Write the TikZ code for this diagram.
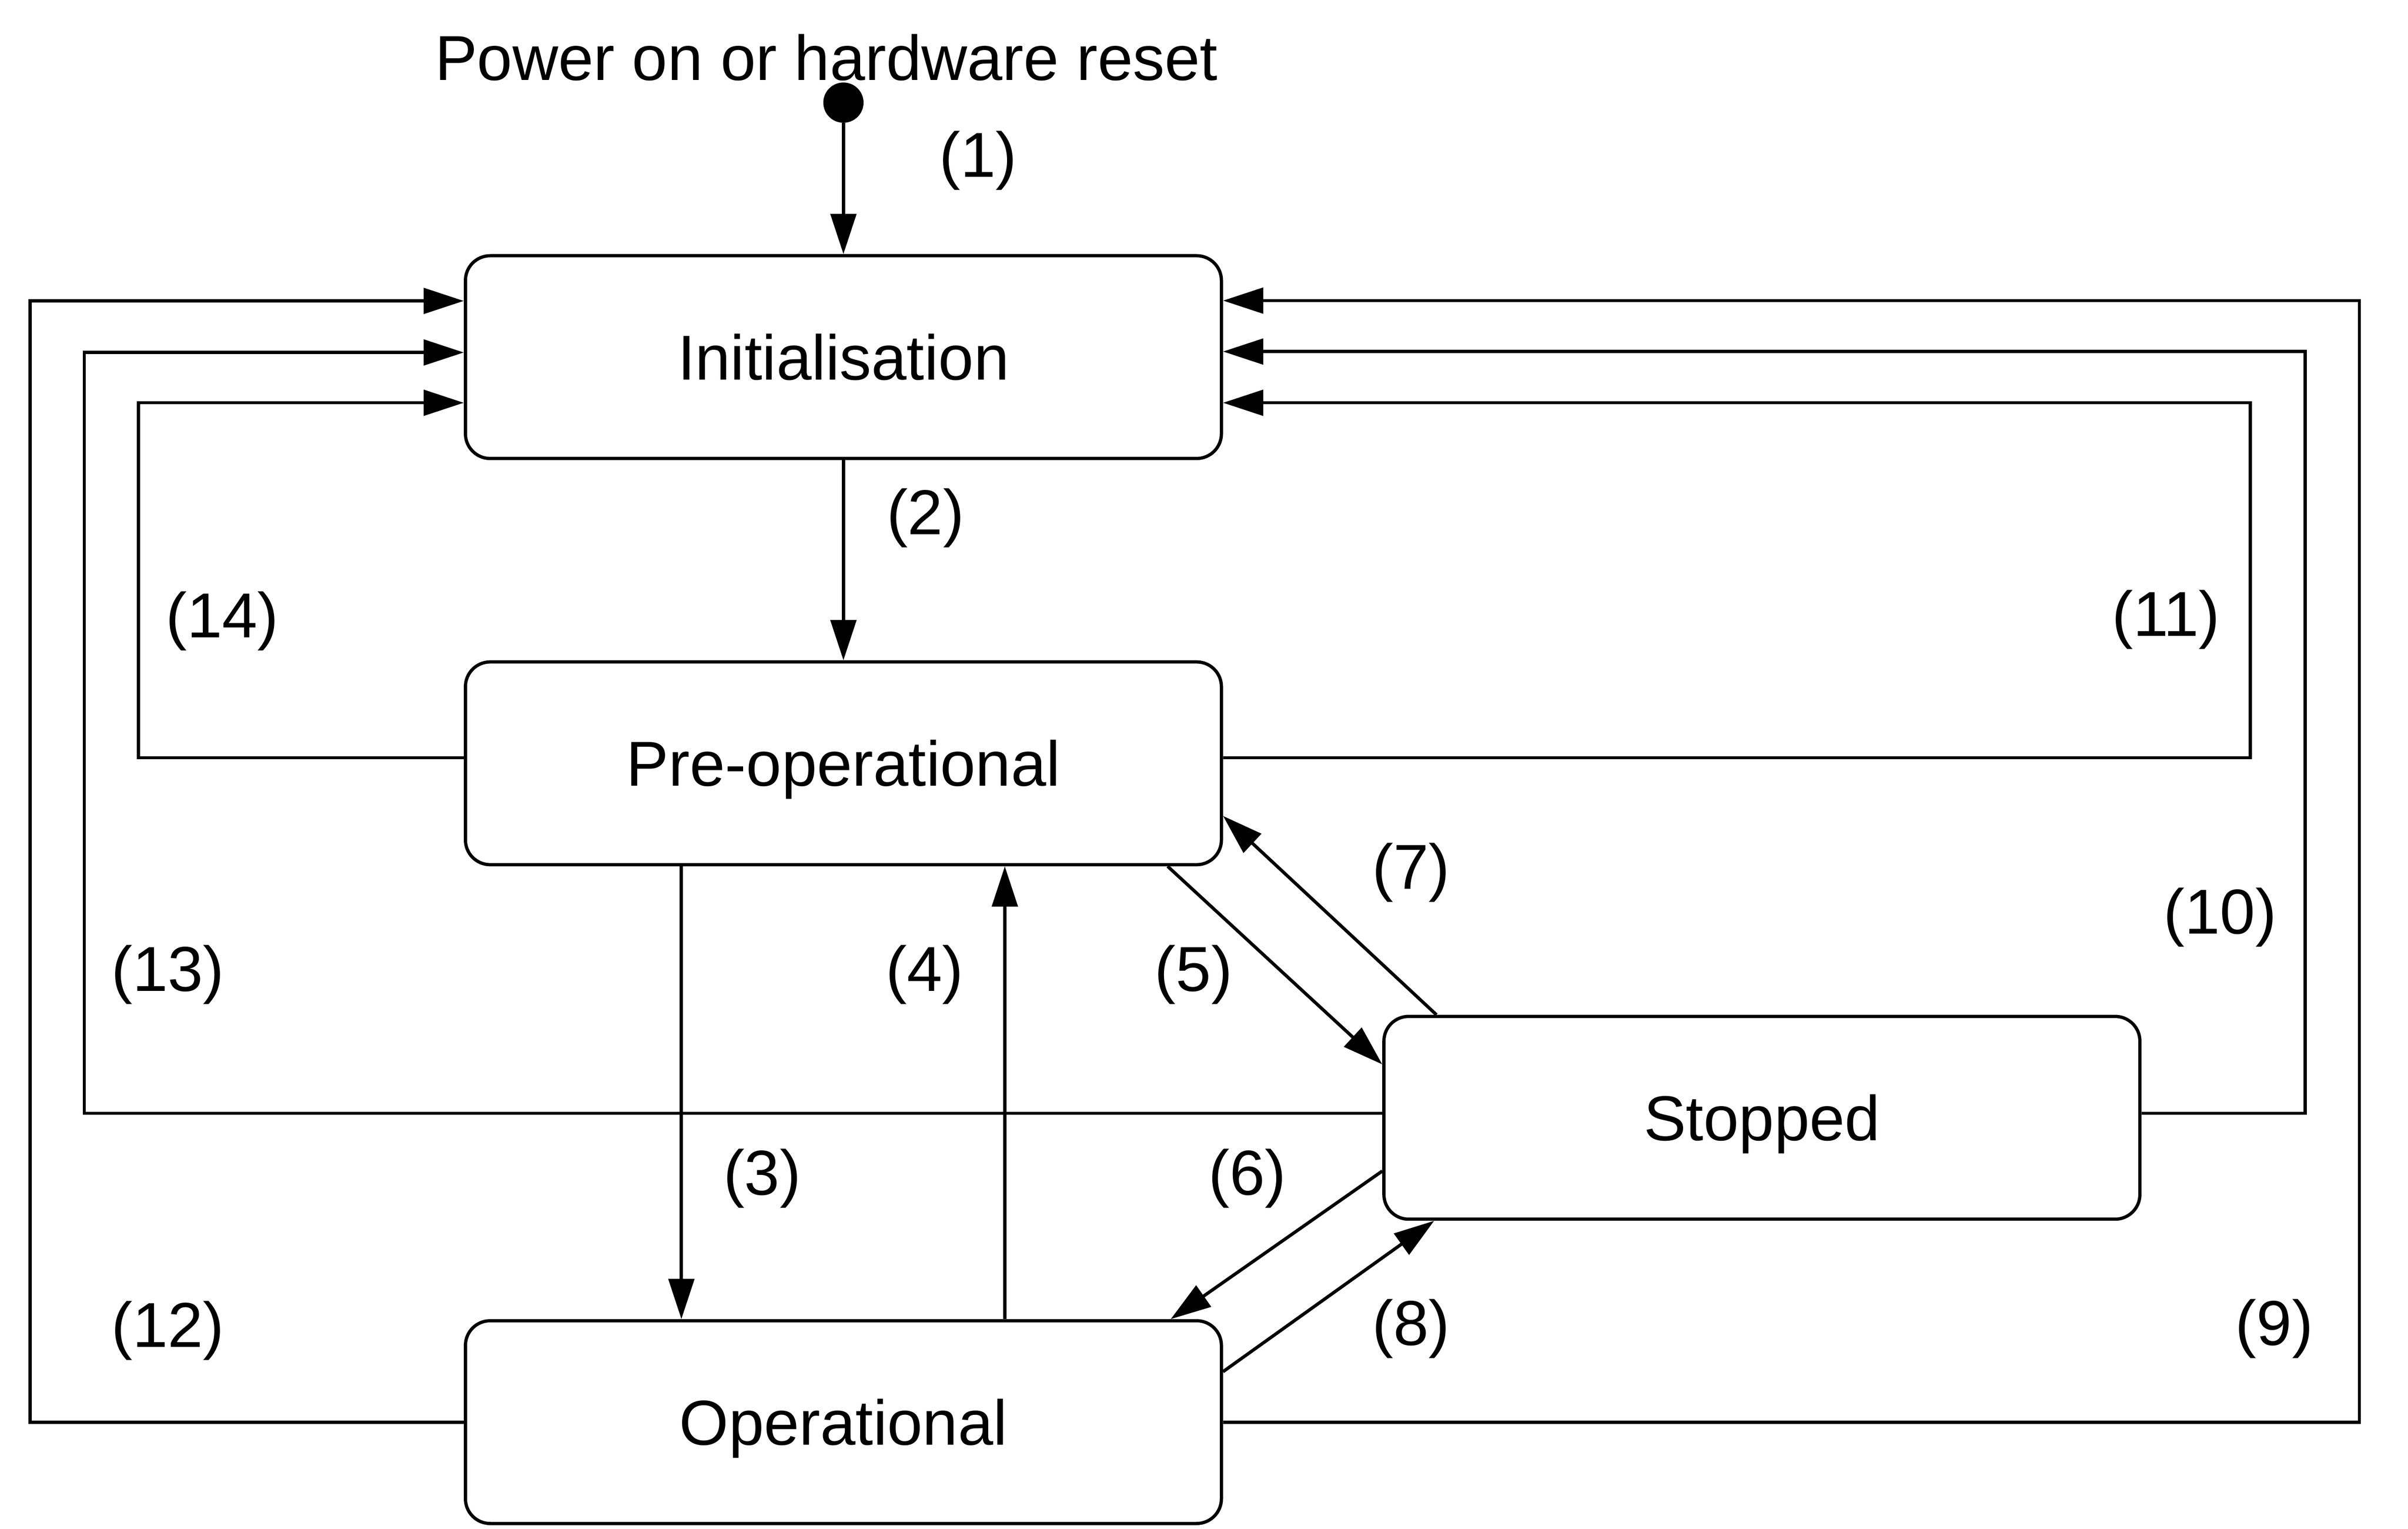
\documentclass[tikz,border=0pt]{standalone}
\usepackage{fontspec}
\setmainfont{Liberation Sans}
\usetikzlibrary{arrows.meta}
\begin{document}
\begin{tikzpicture}[x=1pt,y=-1pt,
  every node/.style={font=\fontsize{41pt}{49pt}\selectfont},
  state/.style={draw, line width=2.1pt, rounded corners=16pt, minimum width=488.5pt, minimum height=131pt, inner sep=0pt, text height=29.4pt, text depth=0pt},
  arr/.style={line width=2.1pt, -{Triangle[length=26pt,width=16.5pt]}},
  lbl/.style={inner sep=0pt}]
\useasboundingbox (0,0) rectangle (1556,987.5);

% states
\node[state] (Init) at (545,230.7) {Initialisation};
\node[state] (Pre)  at (545,493.1) {Pre-operational};
\node[state] (Op)   at (545,918.7) {Operational};
\node[state] (Stop) at (1138.5,722.1) {Stopped};

% start
\node[anchor=base, inner sep=0pt] (title) at (534,51.7) {Power on or hardware reset};
\node[circle, fill, inner sep=0pt, minimum size=26pt] (start) at (545,66.3) {};

% vertical transitions
\draw[arr] (start.south) -- (Init.north);
\draw[arr] (Init.south) -- (Pre.north);
\draw[arr] ([xshift=-104.7pt]Pre.south) -- ([xshift=-104.7pt]Op.north);
\draw[arr] ([xshift=104.3pt]Op.north) -- ([xshift=104.3pt]Pre.south);

% diagonal transitions
\draw[arr] ([xshift=209.5pt]Pre.south) -- ([yshift=34.5pt]Stop.west);
\draw[arr] ([xshift=35pt]Stop.north west) -- ([yshift=-34pt]Pre.east);
\draw[arr] ([yshift=-34.4pt]Stop.west) -- ([xshift=211.5pt]Op.north);
\draw[arr] ([yshift=32.6pt]Op.east) -- ([xshift=33.5pt]Stop.south west);

% return to initialisation, left side
\draw[arr] ([yshift=3.6pt]Pre.west) -- ++(-210.25,0) |- ([yshift=-29.5pt]Init.west);
\draw[arr] ([yshift=2.9pt]Stop.west) -- ++(-838.75,0) |- ([yshift=3pt]Init.west);
\draw[arr] (Op.west) -- ++(-280.25,0) |- ([yshift=36.3pt]Init.west);

% return to initialisation, right side
\draw[arr] ([yshift=3.6pt]Pre.east) -- ++(663.75,0) |- ([yshift=-29.5pt]Init.east);
\draw[arr] ([yshift=2.9pt]Stop.east) -- ++(105.85,0) |- ([yshift=3.6pt]Init.east);
\draw[arr] (Op.east) -- ++(734.25,0) |- ([yshift=36.5pt]Init.east);

% labels
\node[lbl] (l1)  at (632,103.7) {(1)};
\node[lbl] (l2)  at (598,334.8) {(2)};
\node[lbl] (l3)  at (492.5,761.4) {(3)};
\node[lbl] (l4)  at (597.5,629.8) {(4)};
\node[lbl] (l5)  at (771.3,629.8) {(5)};
\node[lbl] (l6)  at (806,761.4) {(6)};
\node[lbl] (l7)  at (911.8,563.7) {(7)};
\node[lbl] (l8)  at (911.8,858.4) {(8)};
\node[lbl] (l9)  at (1469.6,858.4) {(9)};
\node[lbl] (l10) at (1434.6,592.7) {(10)};
\node[lbl] (l11) at (1399.6,400.4) {(11)};
\node[lbl] (l12) at (108.5,859.8) {(12)};
\node[lbl] (l13) at (108.5,629.8) {(13)};
\node[lbl] (l14) at (143.6,401.4) {(14)};
\end{tikzpicture}
\end{document}
